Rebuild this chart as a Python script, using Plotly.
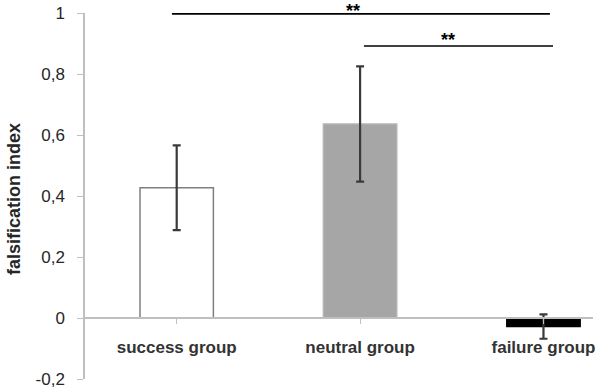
import plotly.graph_objects as go

categories = ["success group", "neutral group", "failure group"]
means = [0.427, 0.636, -0.028]
errors = [0.139, 0.189, 0.040]
bar_fill = ["#ffffff", "#a6a6a6", "#000000"]
bar_line = ["#7f7f7f", "#b4b4b4", "#000000"]

y_tickvals = [-0.2, 0, 0.2, 0.4, 0.6, 0.8, 1.0]
y_ticktext = ["-0,2", "0", "0,2", "0,4", "0,6", "0,8", "1"]

# significance brackets: (x start, x end, y level, star x)
sig_lines = [(-0.026, 2.035, 0.997, 0.961), (1.021, 2.052, 0.892, 1.477)]
sig_label = "**"
star_shift = [-9, -6]

FONT = "Arial, Liberation Sans, sans-serif"

fig = go.Figure()
fig.add_trace(go.Bar(
    x=list(range(len(categories))), y=means, width=0.4,
    marker=dict(color=bar_fill, line=dict(color=bar_line, width=1.5)),
    error_y=dict(type="data", array=errors, visible=True,
                 color="#3a3a3a", thickness=2.2, width=4),
))

for (x0, x1, yv, sx), ys in zip(sig_lines, star_shift):
    fig.add_shape(type="line", xref="x", yref="y", x0=x0, x1=x1, y0=yv, y1=yv,
                  line=dict(color="#000000", width=1.6))
    fig.add_annotation(x=sx, y=yv, xref="x", yref="y", text="<b>%s</b>" % sig_label,
                       showarrow=False, yanchor="bottom", yshift=ys,
                       font=dict(family=FONT, size=18, color="#000000"))

fig.add_annotation(x=-0.1398, y=0.492, xref="paper", yref="paper",
                   xanchor="center", yanchor="middle",
                   text="<b>falsification index</b>", textangle=-90, showarrow=False,
                   font=dict(family=FONT, size=18, color="#262626"))

fig.update_layout(
    template="none",
    width=600, height=389,
    margin=dict(l=85, r=7, t=13, b=10, autoexpand=False),
    plot_bgcolor="white", paper_bgcolor="white",
    showlegend=False,
    separators=",.",
    xaxis=dict(
        range=[-0.5, 2.27], anchor="free", position=1/6, automargin=False,
        tickvals=list(range(len(categories))), ticktext=["<b>%s</b>" % c for c in categories],
        tickson="boundaries", ticks="outside", ticklen=5, tickcolor="#bfbfbf",
        showline=True, linecolor="#bfbfbf", linewidth=1.5, showgrid=False, zeroline=False,
        tickfont=dict(family=FONT, size=17, color="#333333"),
        ticklabelstandoff=9,
    ),
    yaxis=dict(
        range=[-0.2, 1.0], tickvals=y_tickvals, ticktext=y_ticktext, automargin=False,
        ticks="outside", ticklen=6, tickcolor="#bfbfbf",
        showline=True, linecolor="#bfbfbf", linewidth=1.5, showgrid=False, zeroline=False,
        tickfont=dict(family=FONT, size=17, color="#262626"),
        ticklabelstandoff=9,
    ),
)

fig.write_html("out.html", config={"displayModeBar": False},
               post_script="document.body.style.margin='0';document.body.style.overflow='hidden';")
